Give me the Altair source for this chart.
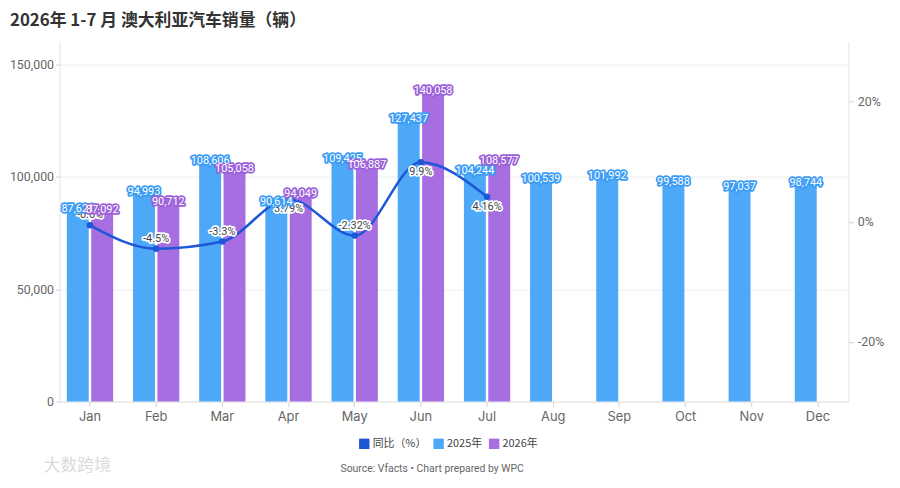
import altair as alt
import pandas as pd

months = ["Jan", "Feb", "Mar", "Apr", "May", "Jun", "Jul", "Aug", "Sep", "Oct", "Nov", "Dec"]
sales_2025 = [87621, 94993, 108606, 90614, 109425, 127437, 104244, 100539, 101992, 99588, 97037, 98744]
sales_2026 = [87092, 90712, 105058, 94049, 106887, 140058, 108577]
yoy = [-0.6, -4.5, -3.3, 3.79, -2.32, 9.9, 4.16]
yoy_labels = ["-0.6%", "-4.5%", "-3.3%", "3.79%", "-2.32%", "9.9%", "4.16%"]
series = ["同比（%）", "2025年", "2026年"]
series_colors = ["#1D57D8", "#4DA8F8", "#A66EE0"]
label_strokes = ["#3A9CF5", "#9C60DA"]
left_ticks = [0, 50000, 100000, 150000]
right_ticks = [-20, 0, 20]
title_text = "2026年 1-7 月 澳大利亚汽车销量（辆）"
source_text = "Source: Vfacts • Chart prepared by WPC"
watermark_text = "大数跨境"

rows = []
for m, v in zip(months, sales_2025):
    rows.append({"month": m, "series": "2025年", "value": v, "label": f"{v:,}"})
for m, v in zip(months, sales_2026):
    rows.append({"month": m, "series": "2026年", "value": v, "label": f"{v:,}"})
bars_df = pd.DataFrame(rows)

line_df = pd.DataFrame({"month": months[:len(yoy)], "yoy": yoy, "label": yoy_labels})

FONT = "Inter"
LBL_FONT = "Roboto"
x_enc = alt.X(
    "month:N",
    sort=months,
    scale=alt.Scale(domain=months, paddingInner=0.3, paddingOuter=0.11),
    axis=alt.Axis(title=None, labelAngle=0, labelColor="#666", labelFontSize=13, labelFont=FONT,
                  domainColor="#e3e3e3", tickColor="#d0d0d0", tickSize=5, labelPadding=4),
)
xoff = alt.XOffset("series:N", scale=alt.Scale(domain=["2025年", "2026年"], paddingInner=0.1))
y_left = alt.Y(
    "value:Q",
    scale=alt.Scale(domain=[0, 160000], nice=False),
    axis=alt.Axis(title=None, values=left_ticks, labelExpr="format(datum.value, ',')", labelColor="#666",
                  labelFontSize=12.5, labelFont=LBL_FONT, domainColor="#e3e3e3", tickColor="#d0d0d0",
                  tickSize=4, gridColor="#eeeeee", labelPadding=2, labelLimit=0),
)
y_left_noaxis = alt.Y("value:Q", scale=alt.Scale(domain=[0, 160000], nice=False), axis=None)

base_bars = alt.Chart(bars_df)
bars = base_bars.mark_bar().encode(
    x=x_enc,
    xOffset=xoff,
    y=y_left,
    color=alt.Color(
        "series:N",
        scale=alt.Scale(domain=series, range=series_colors),
        legend=alt.Legend(title=None, orient="none", legendX=302, legendY=400, direction="horizontal",
                          symbolType="square", symbolSize=110, symbolStrokeWidth=0,
                          labelFontSize=11, labelColor="#444", labelFont="Noto Sans CJK SC",
                          columnPadding=6, labelOffset=3),
    ),
)
bar_lbl_bg = base_bars.mark_text(baseline="middle", dy=4, fontSize=11, font=LBL_FONT, strokeWidth=3.5,
                                 strokeJoin="round").encode(
    x=x_enc, xOffset=xoff, y=y_left_noaxis, text="label:N",
    stroke=alt.Stroke("series:N", scale=alt.Scale(domain=["2025年", "2026年"], range=label_strokes), legend=None),
    fill=alt.Fill("series:N", scale=alt.Scale(domain=["2025年", "2026年"], range=label_strokes), legend=None),
)
bar_lbl_fg = base_bars.mark_text(baseline="middle", dy=4, fontSize=11, font=LBL_FONT, fill="#ffffff").encode(
    x=x_enc, xOffset=xoff, y=y_left_noaxis, text="label:N",
)

y_right = alt.Y(
    "yoy:Q",
    scale=alt.Scale(domain=[-30, 30], nice=False),
    axis=alt.Axis(title=None, orient="right", values=right_ticks, labelExpr="datum.value + '%'",
                  grid=False, labelColor="#666", labelFontSize=12.5, labelFont=LBL_FONT,
                  domainColor="#e3e3e3", tickColor="#d0d0d0", tickSize=5, labelPadding=4),
)
y_right_noaxis = alt.Y("yoy:Q", scale=alt.Scale(domain=[-30, 30], nice=False), axis=None)

base_line = alt.Chart(line_df)
line = base_line.mark_line(color="#1D57D8", strokeWidth=2.5, interpolate="monotone").encode(
    x=x_enc, y=y_right)
pts = base_line.mark_circle(color="#1D57D8", size=45, opacity=1).encode(x=x_enc, y=y_right)
line_group = alt.layer(line, pts)

neg = base_line.transform_filter("datum.yoy < 0")
pos = base_line.transform_filter("datum.yoy >= 0")
line_lbls = []
for sub, dy in [(neg, -10), (pos, 10)]:
    line_lbls.append(sub.mark_text(dy=dy, fontSize=11, font=LBL_FONT, stroke="#ffffff", strokeWidth=3.5,
                                   strokeJoin="round", fill="#ffffff").encode(
        x=x_enc, y=y_right_noaxis, text="label:N"))
    line_lbls.append(sub.mark_text(dy=dy, fontSize=11, font=LBL_FONT, fill="#444444").encode(
        x=x_enc, y=y_right_noaxis, text="label:N"))

footer = alt.Chart(pd.DataFrame({"t": [source_text]})).mark_text(
    fontSize=10.5, font=LBL_FONT, color="#666", align="center", baseline="middle").encode(
    text="t:N", x=alt.value(376), y=alt.value(431))
watermark = alt.Chart(pd.DataFrame({"t": [watermark_text]})).mark_text(
    fontSize=17, font="Noto Sans CJK SC", color="#dadada", align="left", baseline="middle").encode(
    text="t:N", x=alt.value(-16), y=alt.value(428))

chart = alt.layer(bars, line_group, *line_lbls, bar_lbl_bg, bar_lbl_fg, footer, watermark).resolve_scale(
    y="independent"
).properties(
    width=796,
    height=363,
    padding={"left": 52, "top": 32, "right": 44, "bottom": 77},
    autosize=alt.AutoSizeParams(type="none"),
    title=alt.TitleParams(title_text, anchor="start", frame="group", dx=-50, fontSize=17, fontWeight="bold",
                          color="#333", font="Noto Sans CJK SC", offset=12),
).configure_view(stroke=None)

chart.save("out.html", embed_options={"renderer": "svg", "actions": False})
